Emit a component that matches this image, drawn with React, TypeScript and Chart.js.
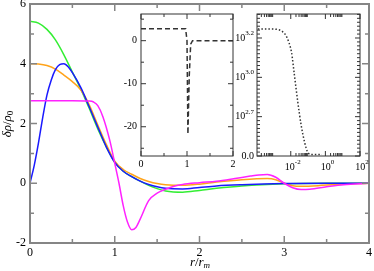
import React, { useEffect, useRef } from "react";
import { Chart, registerables } from "chart.js";
Chart.register(...registerables);

const SERIF = '"Liberation Serif", "DejaVu Serif", serif';

// ---- main panel data ----
const greenX = [0, 0.1, 0.2, 0.3, 0.4, 0.5, 0.6, 0.7, 0.8, 0.9, 1.0, 1.1, 1.2, 1.3, 1.4, 1.5, 1.6, 1.8, 2.0, 2.2, 2.5, 3.0, 3.5, 4.0];
const greenY = [5.42, 5.36, 5.15, 4.8, 4.3, 3.72, 3.15, 2.5, 1.82, 1.22, 0.7, 0.4, 0.22, 0.07, -0.07, -0.18, -0.26, -0.3, -0.24, -0.17, -0.09, -0.02, 0, 0];

const orangeX = [0, 0.1, 0.2, 0.3, 0.4, 0.5, 0.6, 0.7, 0.8, 0.9, 1.0, 1.1, 1.2, 1.3, 1.4, 1.5, 1.6, 1.8, 2.0, 2.2, 2.5, 2.8, 2.9, 3.0, 3.1, 3.2, 3.4, 3.6, 4.0];
const orangeY = [4.0, 3.99, 3.94, 3.82, 3.62, 3.4, 3.12, 2.62, 1.95, 1.3, 0.74, 0.46, 0.3, 0.16, 0.06, -0.01, -0.05, -0.07, -0.03, 0.04, 0.12, 0.16, 0.12, 0.0, -0.08, -0.1, -0.08, -0.04, 0];

const blueX = [0, 0.05, 0.1, 0.15, 0.2, 0.25, 0.3, 0.35, 0.4, 0.45, 0.5, 0.6, 0.7, 0.8, 0.9, 1.0, 1.1, 1.2, 1.3, 1.4, 1.5, 1.6, 1.8, 2.0, 2.2, 2.5, 3.0, 3.5, 4.0];
const blueY = [0, 0.6, 1.35, 2.2, 2.95, 3.45, 3.8, 3.97, 4.0, 3.9, 3.7, 3.2, 2.55, 1.88, 1.22, 0.7, 0.4, 0.22, 0.07, -0.04, -0.12, -0.17, -0.19, -0.14, -0.09, -0.05, -0.01, 0, 0];

const magentaX = [0, 0.5, 0.7, 0.75, 0.8, 0.86, 0.94, 1.0, 1.05, 1.1, 1.15, 1.2, 1.25, 1.3, 1.4, 1.5, 1.6, 1.7, 1.8, 2.0, 2.2, 2.4, 2.6, 2.7, 2.8, 2.9, 3.0, 3.1, 3.2, 3.3, 3.5, 3.7, 4.0];
const magentaY = [2.76, 2.76, 2.75, 2.72, 2.6, 2.23, 1.45, 0.67, 0.0, -0.75, -1.3, -1.56, -1.48, -1.2, -0.58, -0.33, -0.2, -0.1, -0.04, 0.02, 0.07, 0.15, 0.24, 0.28, 0.29, 0.2, 0.0, -0.15, -0.21, -0.2, -0.12, -0.05, 0];

const mainXTicks = [0, 1, 2, 3, 4];
const mainXMinor = [0.5, 1.5, 2.5, 3.5];
const mainYTicks = [-2, 0, 2, 4, 6];
const mainYMinor = [-1, 1, 3, 5];

// ---- inset 1 (dashed) ----
const dashX = [0, 0.97, 1.0, 1.02, 1.05, 1.08, 1.12, 2];
const dashY = [2.8, 2.8, 0, -21.7, -8, -0.8, 0, 0];
const in1XTicks = [0, 1, 2];
const in1XMinor = [0.5, 1.5];
const in1YTicks = [-20, -10, 0];
const in1YMinor = [-25, -15, -5, 5];

// ---- inset 2 (dotted, log x) ----
const dotX = [1.26e-4, 5e-4, 1.6e-3, 3.2e-3, 5e-3, 7.9e-3, 1.12e-2, 1.58e-2, 2.5e-2, 4e-2, 6.3e-2, 0.1, 0.16, 0.32, 0.63];
const dotY = [3.23, 3.23, 3.22, 3.17, 3.08, 2.88, 2.62, 2.1, 1.4, 0.78, 0.35, 0.08, 0.04, 0.04, 0.04];
const in2XTicks = [1e-2, 1, 100];
const in2XLabels = ["-2", "0", "2"];
const in2YTicks = [0, 1, 2, 3];
const in2YLabels = [["0.0", ""], ["10", "2.7"], ["10", "3.0"], ["10", "3.2"]];

type Part = { t: string; size: number; italic?: boolean; dy?: number };

function richWidth(ctx: CanvasRenderingContext2D, parts: Part[]) {
  let w = 0;
  for (const p of parts) {
    ctx.font = `${p.italic ? "italic " : ""}${p.size}px ${SERIF}`;
    w += ctx.measureText(p.t).width;
  }
  return w;
}
function drawRich(ctx: CanvasRenderingContext2D, parts: Part[], x: number, y: number, align: "left" | "center" | "right") {
  const w = richWidth(ctx, parts);
  let cx = align === "left" ? x : align === "center" ? x - w / 2 : x - w;
  ctx.textAlign = "left";
  ctx.textBaseline = "middle";
  for (const p of parts) {
    ctx.font = `${p.italic ? "italic " : ""}${p.size}px ${SERIF}`;
    ctx.fillText(p.t, cx, y + (p.dy || 0));
    cx += ctx.measureText(p.t).width;
  }
}

type TickSet = { v: number; len: number }[];
function framePlugin(o: {
  frameColor: string; frameWidth: number; tickColor: string; tickWidth: number;
  xt: TickSet; yt: TickSet; bg?: string; extra?: (c: any) => void;
}) {
  return {
    id: "frameTicks",
    beforeDraw(chart: any) {
      if (!o.bg) return;
      const { ctx, chartArea: a } = chart;
      ctx.save();
      ctx.fillStyle = o.bg;
      ctx.fillRect(a.left, a.top, a.right - a.left, a.bottom - a.top);
      ctx.restore();
    },
    afterDraw(chart: any) {
      const { ctx, chartArea: a, scales } = chart;
      ctx.save();
      ctx.strokeStyle = o.tickColor;
      ctx.lineWidth = o.tickWidth;
      ctx.beginPath();
      for (const t of o.xt) {
        const px = scales.x.getPixelForValue(t.v);
        if (px < a.left - 0.5 || px > a.right + 0.5) continue;
        ctx.moveTo(px, a.bottom); ctx.lineTo(px, a.bottom - t.len);
        ctx.moveTo(px, a.top); ctx.lineTo(px, a.top + t.len);
      }
      for (const t of o.yt) {
        const py = scales.y.getPixelForValue(t.v);
        if (py < a.top - 0.5 || py > a.bottom + 0.5) continue;
        ctx.moveTo(a.left, py); ctx.lineTo(a.left + t.len, py);
        ctx.moveTo(a.right, py); ctx.lineTo(a.right - t.len, py);
      }
      ctx.stroke();
      ctx.strokeStyle = o.frameColor;
      ctx.lineWidth = o.frameWidth;
      ctx.strokeRect(a.left, a.top, a.right - a.left, a.bottom - a.top);
      ctx.fillStyle = "#000";
      if (o.extra) o.extra(chart);
      ctx.restore();
    },
  };
}

const pts = (xs: number[], ys: number[]) => xs.map((x, i) => ({ x, y: ys[i] }));
const ticksOf = (vals: number[], len: number) => vals.map((v) => ({ v, len }));
const noGrid = { display: false, drawTicks: false, tickLength: 0 };

function lineDs(xs: number[], ys: number[], color: string, extra: any = {}) {
  return {
    data: pts(xs, ys),
    borderColor: color,
    borderWidth: 1.5,
    pointRadius: 0,
    fill: false,
    cubicInterpolationMode: "monotone",
    ...extra,
  };
}

function mainConfig(): any {
  return {
    type: "line",
    data: {
      datasets: [
        lineDs(magentaX, magentaY, "#ff22ff"),
        lineDs(blueX, blueY, "#1a1aff"),
        lineDs(orangeX, orangeY, "#ffa31a"),
        lineDs(greenX, greenY, "#33ee33"),
      ],
    },
    options: {
      animation: false,
      responsive: false,
      devicePixelRatio: 1,
      layout: { padding: { top: 4, right: 5, left: 0, bottom: 0 } },
      plugins: { legend: { display: false }, tooltip: { enabled: false } },
      scales: {
        x: {
          type: "linear", min: 0, max: 4,
          grid: noGrid, border: { display: false },
          ticks: { color: "#000", font: { family: SERIF, size: 12 }, padding: 3, maxRotation: 0, autoSkip: false },
          afterBuildTicks: (s: any) => { s.ticks = mainXTicks.map((v) => ({ value: v })); },
          afterFit: (s: any) => { s.height = 28; s.paddingLeft = 0; s.paddingRight = 0; },
        },
        y: {
          type: "linear", min: -2, max: 6,
          grid: noGrid, border: { display: false },
          ticks: { color: "#000", font: { family: SERIF, size: 12 }, padding: 4, autoSkip: false },
          afterBuildTicks: (s: any) => { s.ticks = mainYTicks.map((v) => ({ value: v })); },
          afterFit: (s: any) => { s.width = 30; s.paddingTop = 0; s.paddingBottom = 0; },
        },
      },
    },
    plugins: [
      framePlugin({
        frameColor: "#858585", frameWidth: 2, tickColor: "#858585", tickWidth: 1.5,
        xt: [...ticksOf(mainXTicks, 7), ...ticksOf(mainXMinor, 4)],
        yt: [...ticksOf(mainYTicks, 7), ...ticksOf(mainYMinor, 4)],
        extra: (chart: any) => {
          const ctx = chart.ctx;
          drawRich(ctx, [
            { t: "r", size: 13, italic: true },
            { t: "/", size: 13 },
            { t: "r", size: 13, italic: true },
            { t: "m", size: 9, italic: true, dy: 3 },
          ], 200, 263, "center");
          ctx.save();
          ctx.translate(8, 124);
          ctx.rotate(-Math.PI / 2);
          drawRich(ctx, [
            { t: "δρ", size: 13, italic: true },
            { t: "/", size: 13 },
            { t: "ρ", size: 13, italic: true },
            { t: "0", size: 9, dy: 3 },
          ], 0, 0, "center");
          ctx.restore();
        },
      }),
    ],
  };
}

function inset1Config(): any {
  return {
    type: "line",
    data: {
      datasets: [lineDs(dashX, dashY, "#333", { borderDash: [5, 3], cubicInterpolationMode: "default", tension: 0, borderWidth: 1.5 })],
    },
    options: {
      animation: false,
      responsive: false,
      devicePixelRatio: 1,
      layout: { padding: { top: 8, right: 7, left: 0, bottom: 0 } },
      plugins: { legend: { display: false }, tooltip: { enabled: false } },
      scales: {
        x: {
          type: "linear", min: 0, max: 2,
          grid: noGrid, border: { display: false },
          ticks: { color: "#000", font: { family: SERIF, size: 10 }, padding: 2, maxRotation: 0, autoSkip: false },
          afterBuildTicks: (s: any) => { s.ticks = in1XTicks.map((v) => ({ value: v })); },
          afterFit: (s: any) => { s.height = 20; s.paddingLeft = 0; s.paddingRight = 0; },
        },
        y: {
          type: "linear", min: -26.8, max: 6.2,
          grid: noGrid, border: { display: false },
          ticks: { color: "#000", font: { family: SERIF, size: 10 }, padding: 4, autoSkip: false },
          afterBuildTicks: (s: any) => { s.ticks = in1YTicks.map((v) => ({ value: v })); },
          afterFit: (s: any) => { s.width = 36; s.paddingTop = 0; s.paddingBottom = 0; },
        },
      },
    },
    plugins: [
      framePlugin({
        frameColor: "#333", frameWidth: 1, tickColor: "#333", tickWidth: 1, bg: "#fff",
        xt: [...ticksOf(in1XTicks, 5), ...ticksOf(in1XMinor, 3)],
        yt: [...ticksOf(in1YTicks, 5), ...ticksOf(in1YMinor, 3)],
      }),
    ],
  };
}

function inset2Config(): any {
  const xMinor: number[] = [];
  for (const d of [1e-4, 1e-2, 1]) for (let k = 2; k <= 9; k++) xMinor.push(k * d);
  const yMinor: number[] = [];
  for (let i = 0; i <= 36; i++) if (i % 10 !== 0) yMinor.push(i / 10);
  return {
    type: "line",
    data: {
      datasets: [lineDs(dotX, dotY, "#333", { borderDash: [1.5, 2], borderWidth: 1.5 })],
    },
    options: {
      animation: false,
      responsive: false,
      devicePixelRatio: 1,
      layout: { padding: { top: 8, right: 14, left: 0, bottom: 0 } },
      plugins: { legend: { display: false }, tooltip: { enabled: false } },
      scales: {
        x: {
          type: "logarithmic", min: 1.12e-4, max: 100,
          grid: noGrid, border: { display: false },
          ticks: { display: false },
          afterFit: (s: any) => { s.height = 25; s.paddingLeft = 0; s.paddingRight = 0; },
        },
        y: {
          type: "linear", min: 0, max: 3.61,
          grid: noGrid, border: { display: false },
          ticks: { display: false },
          afterFit: (s: any) => { s.width = 21; s.paddingTop = 0; s.paddingBottom = 0; },
        },
      },
    },
    plugins: [
      framePlugin({
        frameColor: "#333", frameWidth: 1, tickColor: "#333", tickWidth: 1, bg: "#fff",
        xt: [...ticksOf(in2XTicks, 5), ...ticksOf(xMinor, 3)],
        yt: [...ticksOf(in2YTicks, 5), ...ticksOf(yMinor, 3)],
        extra: (chart: any) => {
          const { ctx, chartArea: a, scales } = chart;
          in2YTicks.forEach((v, i) => {
            const [base, sup] = in2YLabels[i];
            const parts: Part[] = [{ t: base, size: 10 }];
            if (sup) parts.push({ t: sup, size: 7, dy: -5 });
            drawRich(ctx, parts, a.left - 3, scales.y.getPixelForValue(v), "right");
          });
          in2XTicks.forEach((v, i) => {
            drawRich(ctx, [{ t: "10", size: 10 }, { t: in2XLabels[i], size: 7, dy: -5 }],
              scales.x.getPixelForValue(v) + 2, a.bottom + 11, "center");
          });
        },
      }),
    ],
  };
}

export default function App() {
  const mainRef = useRef<HTMLCanvasElement>(null);
  const in1Ref = useRef<HTMLCanvasElement>(null);
  const in2Ref = useRef<HTMLCanvasElement>(null);
  useEffect(() => {
    const charts: Chart[] = [];
    if (mainRef.current) charts.push(new Chart(mainRef.current, mainConfig()));
    if (in1Ref.current) charts.push(new Chart(in1Ref.current, inset1Config()));
    if (in2Ref.current) charts.push(new Chart(in2Ref.current, inset2Config()));
    return () => charts.forEach((c) => c.destroy());
  }, []);
  return (
    <div style={{ position: "fixed", left: 0, top: 0, width: 374, height: 271, background: "#fff" }}>
      <canvas ref={mainRef} width={374} height={271} style={{ position: "absolute", left: 0, top: 0 }} />
      <canvas ref={in1Ref} width={135} height={170} style={{ position: "absolute", left: 105, top: 6 }} />
      <canvas ref={in2Ref} width={138} height={175} style={{ position: "absolute", left: 236, top: 6 }} />
    </div>
  );
}
